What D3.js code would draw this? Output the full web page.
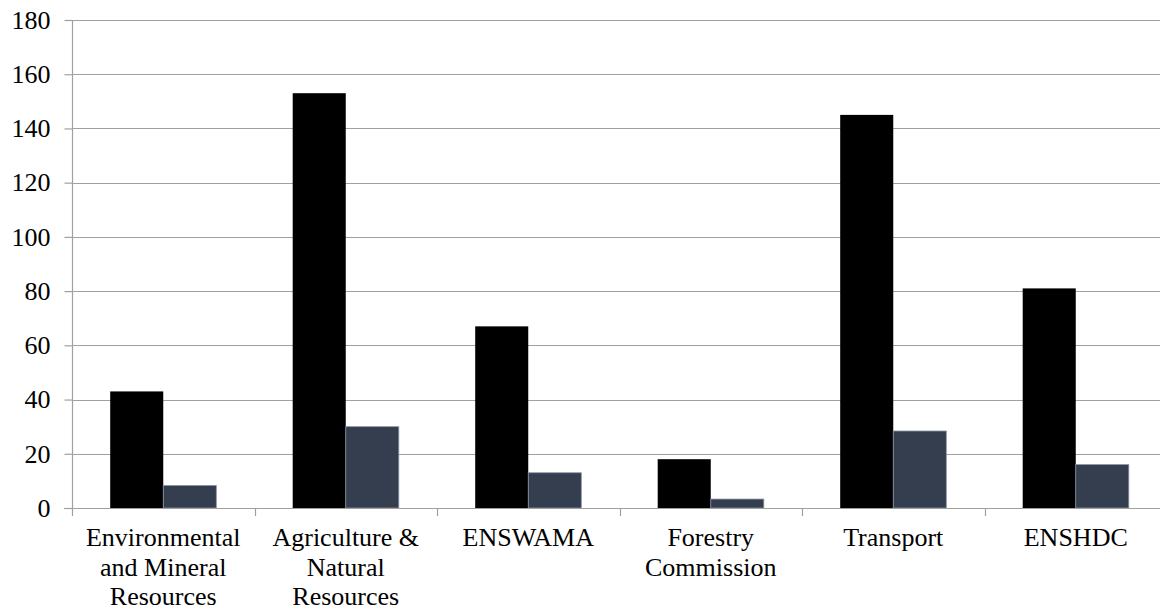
<!DOCTYPE html>
<html>
<head>
<meta charset="utf-8">
<script src="https://cdn.jsdelivr.net/npm/d3@7"></script>
<style>
  html, body { margin: 0; padding: 0; background: #fff; }
  svg { display: block; }
  svg text { font-family: "Liberation Serif", "Times New Roman", Times, Tinos, "Noto Serif", "DejaVu Serif", serif; }
</style>
</head>
<body>
<svg id="chart" width="1160" height="612"></svg>
<script>
// Category labels, split into the lines they are drawn on
const categories = [
  "Environmental and Mineral Resources",
  "Agriculture & Natural Resources",
  "ENSWAMA",
  "Forestry Commission",
  "Transport",
  "ENSHDC"
];
const categoryLines = [
  ["Environmental", "and Mineral", "Resources"],
  ["Agriculture &", "Natural", "Resources"],
  ["ENSWAMA"],
  ["Forestry", "Commission"],
  ["Transport"],
  ["ENSHDC"]
];
const seriesNames = ["series1", "series2"];
const series1 = [43, 153, 67, 18, 145, 81];
const series2 = [8.3, 30, 13, 3.3, 28.4, 16];
const yTicks = [0, 20, 40, 60, 80, 100, 120, 140, 160, 180];

const svg = d3.select("#chart");
const plotLeft = 72, plotRight = 1167, plotTop = 20, plotBottom = 508;

const x0 = d3.scaleBand().domain(categories).range([plotLeft, plotRight]).paddingInner(0).paddingOuter(0);
const x1 = d3.scaleBand().domain(seriesNames).range([0, x0.bandwidth()]).paddingInner(0).paddingOuter(0.72);
const y = d3.scaleLinear().domain([0, 180]).range([plotBottom, plotTop]);

const colors = { series1: "#000000", series2: "#343e4f" };
const strokes = { series1: "none", series2: "#8a93a3" };

// Horizontal gridlines
svg.append("g")
  .selectAll("line")
  .data(yTicks.filter(d => d !== 0))
  .join("line")
  .attr("x1", plotLeft).attr("x2", plotRight)
  .attr("y1", d => Math.round(y(d)) + 0.5).attr("y2", d => Math.round(y(d)) + 0.5)
  .attr("stroke", "#a0a0a0").attr("stroke-width", 1.2);

// Bars
const rows = categories.map((c, i) => ({ cat: c, values: [
  { key: "series1", value: series1[i] },
  { key: "series2", value: series2[i] }
]}));

svg.append("g")
  .selectAll("g")
  .data(rows)
  .join("g")
  .attr("transform", d => `translate(${x0(d.cat)},0)`)
  .selectAll("rect")
  .data(d => d.values)
  .join("rect")
  .attr("x", d => x1(d.key))
  .attr("width", x1.bandwidth())
  .attr("y", d => y(d.value))
  .attr("height", d => plotBottom - y(d.value))
  .attr("fill", d => colors[d.key])
  .attr("stroke", d => strokes[d.key])
  .attr("stroke-width", 0.8);

// Y axis
const yAxis = d3.axisLeft(y).tickValues(yTicks).tickSize(8).tickPadding(14).tickFormat(d3.format("d"));
const gy = svg.append("g").attr("transform", `translate(${plotLeft + 0.5},0)`).call(yAxis);
gy.attr("font-family", null).attr("font-size", 26);
gy.select(".domain").attr("stroke", "#a0a0a0").attr("stroke-width", 1.2).attr("d", `M0,${plotTop}V${plotBottom}`);
gy.selectAll(".tick line").attr("stroke", "#a0a0a0").attr("stroke-width", 1.2);
gy.selectAll(".tick text").attr("fill", "#000");

// X axis baseline and category boundary ticks
const gx = svg.append("g").attr("font-size", 26);
gx.append("line")
  .attr("x1", plotLeft - 8).attr("x2", plotRight)
  .attr("y1", plotBottom + 0.5).attr("y2", plotBottom + 0.5)
  .attr("stroke", "#a0a0a0").attr("stroke-width", 1.2);
const boundaries = categories.map(c => x0(c)).concat([plotRight]);
gx.selectAll("line.b")
  .data(boundaries)
  .join("line")
  .attr("class", "b")
  .attr("x1", d => Math.round(d) + 0.5).attr("x2", d => Math.round(d) + 0.5)
  .attr("y1", plotBottom).attr("y2", plotBottom + 8)
  .attr("stroke", "#a0a0a0").attr("stroke-width", 1.2);

// Category labels
const labels = gx.selectAll("text.cat")
  .data(categories)
  .join("text")
  .attr("class", "cat")
  .attr("text-anchor", "middle")
  .attr("fill", "#000")
  .attr("x", d => x0(d) + x0.bandwidth() / 2)
  .attr("y", 546);
labels.selectAll("tspan")
  .data((d, i) => categoryLines[i])
  .join("tspan")
  .attr("x", function () { return d3.select(this.parentNode).attr("x"); })
  .attr("dy", (d, i) => i === 0 ? 0 : 29.5)
  .text(d => d);
</script>
</body>
</html>
